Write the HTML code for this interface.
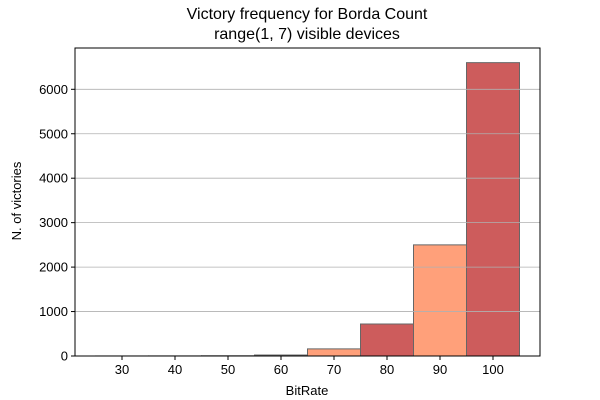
<!DOCTYPE html>
<html><head><meta charset="utf-8"><style>body{margin:0;background:#fff}svg{display:block;font-family:"Liberation Sans","DejaVu Sans",sans-serif}</style></head>
<body>
<svg id="c" width="600" height="400" xmlns="http://www.w3.org/2000/svg">
<text x="307" y="19" font-size="16" text-anchor="middle">Victory frequency for Borda Count</text>
<text x="307" y="39" font-size="16" text-anchor="middle">range(1, 7) visible devices</text>
<g id="bars"></g><g id="grid"></g><g id="axes"></g>
<text x="307" y="395" font-size="13" text-anchor="middle">BitRate</text>
<text transform="translate(21,201) rotate(-90)" font-size="13" text-anchor="middle">N. of victories</text>
</svg>
<script>
const categories=[30,40,50,60,70,80,90,100];
const values=[1,2,5,22,160,720,2500,6600];
const yTicks=[0,1000,2000,3000,4000,5000,6000];
const xTicks=[30,40,50,60,70,80,90,100];
const L=75,R=540,T=48,B=356;
const xs=v=>122+(v-30)*5.3;
const ys=v=>B-v*0.04445;
const NS="http://www.w3.org/2000/svg";
function mk(t,a,p){const e=document.createElementNS(NS,t);for(const k in a)e.setAttribute(k,a[k]);p.appendChild(e);return e;}
const grid=document.getElementById('grid'),bars=document.getElementById('bars'),axes=document.getElementById('axes');
yTicks.forEach(v=>{const y=ys(v);
 if(v>0){const g=mk('line',{x1:L,x2:R,y1:y,y2:y,stroke:'#b0b0b0','stroke-width':0.8},grid);
 
 }
 const t=mk('line',{x1:L-4,x2:L,y1:y,y2:y,stroke:'#000'},axes);
 
 
 const l=mk('text',{x:L-7,y:y+4.5,'font-size':13,'text-anchor':'end'},axes);l.textContent=v;
 
 
});
categories.forEach((c,i)=>{const x0=xs(c-5),x1=xs(c+5),y=ys(values[i]);
 const fill=(categories.length-1-i)%2===0?'#cd5c5c':'#ffa07a';
 const r=mk('rect',{x:x0,y:y,width:x1-x0,height:B-y,fill:fill,stroke:'#666','stroke-width':1},bars);
 
 
});
xTicks.forEach(v=>{const x=xs(v);
 const t=mk('line',{x1:x,x2:x,y1:B,y2:B+4,stroke:'#000'},axes);
 
 
 const l=mk('text',{x:x,y:B+18,'font-size':13,'text-anchor':'middle'},axes);l.textContent=v;
 
 
});
const f=mk('rect',{x:L,y:T,width:R-L,height:B-T,fill:'none',stroke:'#000','stroke-width':1},axes);


</script>
</body></html>
